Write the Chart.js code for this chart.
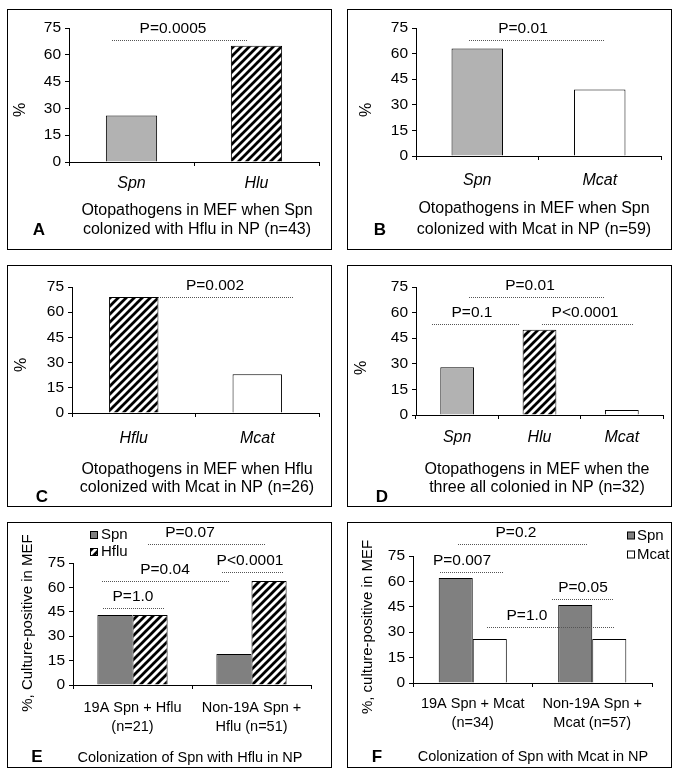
<!DOCTYPE html>
<html>
<head>
<meta charset="utf-8">
<script src="https://cdn.jsdelivr.net/npm/chart.js@4.4.1/dist/chart.umd.min.js"></script>
<style>
  body { margin: 0; background: #fff; width: 680px; height: 778px; position: relative; overflow: hidden; }
  .box { position: absolute; border: 1px solid #000; box-sizing: border-box; }
  canvas { position: absolute; }
</style>
</head>
<body>
<script>
// values (% culture-positive in MEF)
const yTicks = [0, 15, 30, 45, 60, 75];

const catsA = ['Spn', 'Hlu'];
const valsA = [26, 65];

const catsB = ['Spn', 'Mcat'];
const valsB = [63, 39];

const catsC = ['Hflu', 'Mcat'];
const valsC = [69, 23];

const catsD = ['Spn', 'Hlu', 'Mcat'];
const valsD = [28, 50, 3];

const catsE = [['19A Spn + Hflu', '(n=21)'], ['Non-19A Spn +', 'Hflu (n=51)']];
const spnE = [43, 19];
const hfluE = [43, 64];

const catsF = [['19A Spn + Mcat', '(n=34)'], ['Non-19A Spn +', 'Mcat (n=57)']];
const spnF = [62, 46];
const mcatF = [26, 26];

const FONT = "'Liberation Sans', Arial, sans-serif";
Chart.defaults.font.family = FONT;

const LIGHT = '#b2b2b2';
const DARK = '#808080';
const WHITE = '#ffffff';

// diagonal hatch for Hflu / Hlu bars
function makeHatch() {
  const c = document.createElement('canvas');
  c.width = 8; c.height = 8;
  const g = c.getContext('2d');
  g.fillStyle = '#fff';
  g.fillRect(0, 0, 8, 8);
  g.strokeStyle = '#000';
  g.lineWidth = 2.8;
  g.beginPath();
  g.moveTo(-2, 10); g.lineTo(10, -2);
  g.moveTo(-6, 6); g.lineTo(6, -6);
  g.moveTo(2, 14); g.lineTo(14, 2);
  g.stroke();
  return g.createPattern(c, 'repeat');
}
const HATCH = makeHatch();

const YW = 50, XH = 70;

const panels = [
  {
    letter: 'A', rect: [7, 9, 325, 241], area: [69, 319, 28, 162],
    labels: catsA, datasets: [{ data: valsA, backgroundColor: [LIGHT, HATCH] }],
    catPct: 1, barPct: 0.41, italic: true, tickPad: 7, textSize: 16,
    yTitle: { text: '%', x: 21, y: 110 },
    title: { lines: ['Otopathogens in MEF when Spn', 'colonized with Hflu in NP (n=43)'], x: 197, y: [211, 230] },
    letterPos: [39, 230],
    notes: [{ text: 'P=0.0005', from: -0.16, to: 0.93, y: 68.3, tx: 0.33 }]
  },
  {
    letter: 'B', rect: [347, 9, 325, 241], area: [416, 661, 28, 156],
    labels: catsB, datasets: [{ data: valsB, backgroundColor: [LIGHT, WHITE] }],
    catPct: 1, barPct: 0.42, italic: true, tickPad: 10, textSize: 16,
    yTitle: { text: '%', x: 367, y: 110 },
    title: { lines: ['Otopathogens in MEF when Spn', 'colonized with Mcat in NP (n=59)'], x: 534, y: [209, 230] },
    letterPos: [380, 230],
    notes: [{ text: 'P=0.01', from: -0.07, to: 1.04, y: 68, tx: 0.37 }]
  },
  {
    letter: 'C', rect: [7, 265, 325, 242], area: [72, 319, 287, 413],
    labels: catsC, datasets: [{ data: valsC, backgroundColor: [HATCH, WHITE] }],
    catPct: 1, barPct: 0.40, italic: true, tickPad: 11, textSize: 16,
    yTitle: { text: '%', x: 22, y: 365 },
    title: { lines: ['Otopathogens in MEF when Hflu', 'colonized with Mcat in NP (n=26)'], x: 197, y: [470, 488] },
    letterPos: [42, 497],
    notes: [{ text: 'P=0.002', from: 0.2, to: 1.3, y: 69, tx: 0.66 }]
  },
  {
    letter: 'D', rect: [347, 265, 325, 242], area: [416, 663, 287, 415],
    labels: catsD, datasets: [{ data: valsD, backgroundColor: [LIGHT, HATCH, WHITE] }],
    catPct: 1, barPct: 0.41, italic: true, tickPad: 8, textSize: 16,
    yTitle: { text: '%', x: 362, y: 368 },
    title: { lines: ['Otopathogens in MEF when the', 'three all colonied in NP (n=32)'], x: 537, y: [470, 488] },
    letterPos: [382, 497],
    notes: [
      { text: 'P=0.1', from: -0.31, to: 0.76, y: 53.3, tx: 0.18 },
      { text: 'P<0.0001', from: 1.03, to: 2.14, y: 53.3, tx: 1.55 },
      { text: 'P=0.01', from: 0.14, to: 1.8, y: 69, tx: 0.88 }
    ]
  },
  {
    letter: 'E', rect: [7, 522, 325, 246], area: [73, 311, 563, 685],
    labels: catsE, datasets: [
      { label: 'Spn', data: spnE, backgroundColor: DARK },
      { label: 'Hflu', data: hfluE, backgroundColor: HATCH }
    ],
    catPct: 0.59, barPct: 1, italic: false, tickPad: 9, textSize: 14.5,
    yTitle: { text: '%, Culture-positive in MEF', x: 28, y: 623 },
    title: { lines: ['Colonization of Spn with Hflu in NP'], x: 190, y: [758] },
    letterPos: [37, 757],
    legend: { boxX: 90, textX: 101, y: [535, 552] },
    notes: [
      { text: 'P=1.0', from: -0.25, to: 0.27, y: 47.3, tx: 0.0 },
      { text: 'P=0.04', from: -0.26, to: 0.81, y: 64, tx: 0.27 },
      { text: 'P<0.0001', from: 0.75, to: 1.27, y: 69.5, tx: 0.99 },
      { text: 'P=0.07', from: 0.13, to: 1.12, y: 86.7, tx: 0.48 }
    ]
  },
  {
    letter: 'F', rect: [347, 522, 325, 246], area: [413, 652, 556, 683],
    labels: catsF, datasets: [
      { label: 'Spn', data: spnF, backgroundColor: DARK },
      { label: 'Mcat', data: mcatF, backgroundColor: WHITE }
    ],
    catPct: 0.57, barPct: 1, italic: false, tickPad: 7, textSize: 14.5,
    yTitle: { text: '%, culture-positive in MEF', x: 368, y: 627 },
    title: { lines: ['Colonization of Spn with Mcat in NP'], x: 533, y: [757] },
    letterPos: [377, 757],
    legend: { boxX: 627, textX: 637, y: [535.5, 554.5] },
    notes: [
      { text: 'P=0.007', from: -0.27, to: 0.26, y: 65.6, tx: -0.09 },
      { text: 'P=0.05', from: 0.66, to: 1.18, y: 49.6, tx: 0.92 },
      { text: 'P=1.0', from: 0.12, to: 1.18, y: 33, tx: 0.45 },
      { text: 'P=0.2', from: -0.12, to: 0.96, y: 82, tx: 0.36 }
    ]
  }
];

function panelPlugin(p) {
  return {
    id: 'panelText' + p.letter,
    afterDraw(chart) {
      const ctx = chart.ctx;
      const xs = chart.scales.x, ys = chart.scales.y;
      const ox = p.rect[0], oy = p.rect[1];
      const x0 = xs.getPixelForValue(0);
      const cw = xs.getPixelForValue(1) - x0;
      const px = v => Math.round(x0 + v * cw);
      ctx.save();
      ctx.fillStyle = '#000';
      ctx.textAlign = 'center';
      ctx.textBaseline = 'middle';
      // significance brackets
      ctx.font = '15.5px ' + FONT;
      p.notes.forEach(n => {
        const yy = Math.round(ys.getPixelForValue(n.y)) + 0.5;
        ctx.save();
        ctx.strokeStyle = '#555';
        ctx.lineWidth = 1;
        ctx.setLineDash([1, 1]);
        ctx.beginPath();
        ctx.moveTo(px(n.from), yy);
        ctx.lineTo(px(n.to), yy);
        ctx.stroke();
        ctx.restore();
        ctx.fillText(n.text, px(n.tx), yy - 12);
      });
      // y axis title
      ctx.font = (p.legend ? 15 : 16) + 'px ' + FONT;
      ctx.save();
      ctx.translate(p.yTitle.x - ox, p.yTitle.y - oy);
      ctx.rotate(-Math.PI / 2);
      ctx.fillText(p.yTitle.text, 0, 0);
      ctx.restore();
      // caption
      ctx.font = p.textSize + 'px ' + FONT;
      p.title.lines.forEach((t, i) => ctx.fillText(t, p.title.x - ox, p.title.y[i] - oy));
      // legend
      if (p.legend) {
        ctx.font = '15px ' + FONT;
        ctx.textAlign = 'left';
        p.datasets.forEach((ds, i) => {
          const by = p.legend.y[i] - oy;
          const bx = p.legend.boxX - ox;
          ctx.fillStyle = ds.backgroundColor;
          ctx.fillRect(bx, by - 3.5, 7, 7);
          ctx.strokeStyle = '#000';
          ctx.lineWidth = 1;
          ctx.strokeRect(bx + 0.5, by - 3.5, 7, 7);
          ctx.fillStyle = '#000';
          ctx.fillText(ds.label, p.legend.textX - ox, by);
        });
      }
      // panel letter
      ctx.textAlign = 'center';
      ctx.font = 'bold 17px ' + FONT;
      ctx.fillText(p.letter, p.letterPos[0] - ox, p.letterPos[1] - oy);
      ctx.restore();
    }
  };
}

panels.forEach(p => {
  const [pl, pt, pw, ph] = p.rect;
  const [cl, cr, ct, cb] = p.area;

  const box = document.createElement('div');
  box.className = 'box';
  Object.assign(box.style, { left: pl + 'px', top: pt + 'px', width: pw + 'px', height: ph + 'px' });
  document.body.appendChild(box);

  const cv = document.createElement('canvas');
  cv.width = pw; cv.height = ph;
  Object.assign(cv.style, { left: pl + 'px', top: pt + 'px', width: pw + 'px', height: ph + 'px' });
  document.body.appendChild(cv);

  new Chart(cv, {
    type: 'bar',
    data: {
      labels: p.labels,
      datasets: p.datasets.map(ds => ({
        label: ds.label || '',
        data: ds.data,
        backgroundColor: ds.backgroundColor,
        borderColor: '#000',
        borderWidth: 1,
        categoryPercentage: p.catPct,
        barPercentage: p.barPct
      }))
    },
    options: {
      responsive: false,
      animation: false,
      devicePixelRatio: 1,
      layout: {
        padding: {
          left: (cl - pl) - YW,
          right: (pl + pw) - cr,
          top: ct - pt,
          bottom: (pt + ph) - cb - XH
        }
      },
      plugins: { legend: { display: false }, tooltip: { enabled: false } },
      scales: {
        x: {
          grid: { offset: true, drawOnChartArea: false, tickLength: 4, color: '#000' },
          border: { color: '#000' },
          ticks: {
            color: '#000',
            padding: p.tickPad,
            maxRotation: 0,
            autoSkip: false,
            font: { size: p.textSize, style: p.italic ? 'italic' : 'normal', lineHeight: 1.35 }
          },
          afterFit: s => { s.height = XH; }
        },
        y: {
          min: 0,
          max: 75,
          afterBuildTicks: s => { s.ticks = yTicks.map(v => ({ value: v })); },
          grid: { drawOnChartArea: false, tickLength: 4, color: '#000' },
          border: { color: '#000' },
          ticks: { color: '#000', padding: 4, font: { size: 15.5 } },
          afterFit: s => { s.width = YW; }
        }
      }
    },
    plugins: [panelPlugin(p)]
  });
});
</script>
</body>
</html>
